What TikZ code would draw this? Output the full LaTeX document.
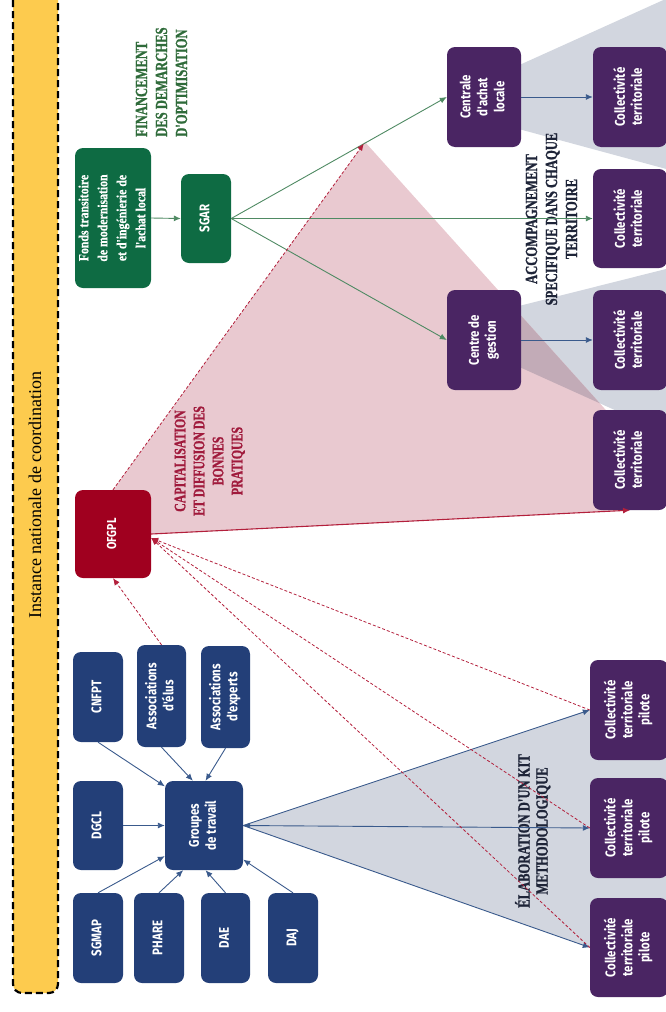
\documentclass[tikz,border=0pt]{standalone}
\usepackage{fontspec}
\usepackage{graphicx}
\setmainfont{Liberation Serif}
\newfontfamily\boxfont[FakeStretch=0.82]{Fira Sans}
\newfontfamily\labfont[FakeStretch=0.74, FakeBold=1.2]{Liberation Serif Bold}
\newfontfamily\fondsfont[FakeStretch=0.84, FakeBold=0.6]{Liberation Serif Bold}
\usetikzlibrary{arrows.meta,calc}
\definecolor{cgreen}{HTML}{0E6B43}
\definecolor{cblue}{HTML}{233F78}
\definecolor{cpurple}{HTML}{4A2563}
\definecolor{cred}{HTML}{A0001F}
\definecolor{cyellow}{HTML}{FDCB4E}
\definecolor{cgray}{HTML}{D2D6DF}
\definecolor{cpink}{HTML}{E9C9D0}
\definecolor{cmauve}{HTML}{C2ABB7}
\definecolor{lgreen}{HTML}{4F8A63}
\definecolor{lblue}{HTML}{3A5A8C}
\definecolor{lred}{HTML}{B3203C}
\definecolor{tnavy}{HTML}{1E2438}
\definecolor{tgreen}{HTML}{2F6B3A}
\definecolor{tred}{HTML}{A01A3C}
\newcommand{\rotx}[1]{\rotatebox{90}{\begin{tabular}{@{}c@{}}#1\end{tabular}}}
\newcommand{\rotl}[1]{\rotatebox{90}{\begin{tabular}{@{}l@{}}#1\end{tabular}}}
\tikzset{
  box/.style={rounded corners=8pt, inner sep=0pt, text=white,
    font={\boxfont\bfseries\fontsize{14pt}{17pt}\selectfont}},
  gbox/.style={box, fill=cgreen},
  bbox/.style={box, fill=cblue},
  pbox/.style={box, fill=cpurple},
  rbox/.style={box, fill=cred, font={\boxfont\bfseries\fontsize{13pt}{15pt}\selectfont}},
  tip/.style={-{Latex[length=7pt,width=6pt]}},
  gline/.style={draw=lgreen, line width=0.9pt, tip, color=lgreen},
  bline/.style={draw=lblue, line width=0.9pt, tip, color=lblue},
  rline/.style={draw=lred, line width=1.1pt, tip, color=lred},
  rdash/.style={draw=lred, line width=0.8pt, dash pattern=on 3pt off 2pt, tip, color=lred},
  lab/.style={inner sep=0pt, font={\labfont\fontsize{17pt}{20pt}\selectfont}},
}
\begin{document}
\begin{tikzpicture}[x=1pt,y=-1pt]
\useasboundingbox (0,0) rectangle (665,1012);

% yellow band
\draw[fill=cyellow, draw=black, line width=2.2pt, dash pattern=on 7pt off 4pt, rounded corners=9pt] (13,-20) rectangle (58,993);
\node[rotate=90, inner sep=0pt, font={\fontsize{18pt}{20pt}\selectfont}] (inst) at (35,495) {Instance nationale de coordination};

% gray wedges
\fill[cgray] (515,67) -- (670,-3) -- (670,170) -- (515,128) -- cycle;
\fill[cgray] (515,307) -- (670,268) -- (670,435) -- (515,365) -- cycle;
\fill[cgray] (243,825.5) -- (590,710) -- (670,710) -- (670,947.5) -- (590,947.5) -- cycle;
% pink region
\fill[cpink] (113,490) -- (365,142) -- (613,418) -- (630,510) -- (151,534) -- cycle;
\begin{scope}
  \clip (113,490) -- (365,142) -- (613,418) -- (630,510) -- (151,534) -- cycle;
  \fill[cmauve] (515,307) -- (670,268) -- (670,435) -- (515,365) -- cycle;
\end{scope}
\coordinate (apex) at (365,142);

% nodes
\node[gbox, minimum width=76pt, minimum height=140pt] (fonds) at (113,218)
  {\fondsfont\fontsize{14pt}{19pt}\selectfont\rotx{Fonds transitoire\\de modernisation\\et d'ingénierie de\\l'achat local}};
\node[gbox, minimum width=50pt, minimum height=89pt] (sgar) at (206,218.5) {\rotx{SGAR}};
\node[rbox, minimum width=76pt, minimum height=88pt] (ofgpl) at (113,534) {\rotx{OFGPL}};

\node[pbox, minimum width=74pt, minimum height=100pt] (centrale) at (484,97) {\rotx{Centrale\\d'achat\\locale}};
\node[pbox, minimum width=74pt, minimum height=100pt] (centre) at (484,340) {\rotx{Centre de\\gestion}};
\node[pbox, minimum width=74pt, minimum height=100pt] (col1) at (630,97) {\rotx{Collectivité\\territoriale}};
\node[pbox, minimum width=74pt, minimum height=99pt] (col2) at (630,218.5) {\rotx{Collectivité\\territoriale}};
\node[pbox, minimum width=74pt, minimum height=100pt] (col3) at (630,340) {\rotx{Collectivité\\territoriale}};
\node[pbox, minimum width=74pt, minimum height=100pt] (col4) at (630,460) {\rotx{Collectivité\\territoriale}};
\node[pbox, minimum width=78pt, minimum height=100pt] (p1) at (629,710) {\rotx{Collectivité\\territoriale\\pilote}};
\node[pbox, minimum width=78pt, minimum height=100pt] (p2) at (629,828) {\rotx{Collectivité\\territoriale\\pilote}};
\node[pbox, minimum width=78pt, minimum height=99pt] (p3) at (629,947.5) {\rotx{Collectivité\\territoriale\\pilote}};

\node[bbox, minimum width=50pt, minimum height=90pt] (cnfpt) at (98,697) {\rotx{CNFPT}};
\node[bbox, minimum width=49pt, minimum height=102pt] (elus) at (161.5,696) {\rotx{Associations\\d'élus}};
\node[bbox, minimum width=49pt, minimum height=102pt] (experts) at (225.5,697) {\rotx{Associations\\d'experts}};
\node[bbox, minimum width=50pt, minimum height=89pt] (dgcl) at (98,825.5) {\rotx{DGCL}};
\node[bbox, minimum width=78pt, minimum height=89pt] (gt) at (204,825.5) {\rotx{Groupes\\de travail}};
\node[bbox, minimum width=50pt, minimum height=90pt] (sgmap) at (98,938) {\rotx{SGMAP}};
\node[bbox, minimum width=50pt, minimum height=90pt] (phare) at (159,938) {\rotx{PHARE}};
\node[bbox, minimum width=49pt, minimum height=90pt] (dae) at (225.5,938) {\rotx{DAE}};
\node[bbox, minimum width=50pt, minimum height=90pt] (daj) at (293,938) {\rotx{DAJ}};

% labels
\node[lab, text=tgreen, anchor=south] (lfin) at (163,137) {\rotl{FINANCEMENT\\DES DEMARCHES\\D'OPTIMISATION}};
\node[lab, text=tred, font={\labfont\fontsize{16pt}{19pt}\selectfont}] (lcap) at (210,461) {\rotx{CAPITALISATION\\ET DIFFUSION DES\\BONNES\\PRATIQUES}};
\node[lab, text=tnavy] (lacc) at (553,219) {\rotx{ACCOMPAGNEMENT\\SPECIFIQUE DANS CHAQUE\\TERRITOIRE}};
\node[lab, text=tnavy, font={\labfont\fontsize{17pt}{18pt}\selectfont}] (lela) at (534,831) {\rotx{ÉLABORATION D'UN KIT\\METHODOLOGIQUE}};

% connectors: green
\draw[gline] (fonds.east) -- (sgar.west);
\draw[gline] (sgar.east) -- (centrale.west);
\draw[gline] (sgar.east) -- (col2.west);
\draw[gline] (sgar.east) -- (centre.west);
% blue right
\draw[bline] (centrale.east) -- (col1.west);
\draw[bline] (centre.east) -- (col3.west);
% blue into groupes
\draw[bline] (cnfpt.south) -- (gt.135);
\draw[bline] (elus.south) -- (gt.104);
\draw[bline] (experts.south) -- (gt.88);
\draw[bline] (dgcl.east) -- (gt.west);
\draw[bline] (sgmap.north) -- (gt.218);
\draw[bline] (phare.north) -- (gt.245);
\draw[bline] (dae.north) -- (gt.272);
\draw[bline] (daj.north) -- (gt.-41);
% groupes to pilots
\draw[bline] (gt.east) -- (p1.west);
\draw[bline, {Latex[length=7pt,width=6pt]}-{Latex[length=7pt,width=6pt]}] (gt.east) -- (p2.west);
\draw[bline] (gt.east) -- (p3.west);
% red
\draw[rline] (ofgpl.east) -- (col4.south);
\draw[rdash, shorten >=2pt] (ofgpl.north) -- (apex);
\draw[rdash] (elus.north) -- (ofgpl.south);
\draw[rdash] (p1.west) -- (ofgpl.-6);
\draw[rdash] (p2.west) -- (ofgpl.-6);
\draw[rdash] (p3.west) -- (ofgpl.-6);
\end{tikzpicture}
\end{document}
